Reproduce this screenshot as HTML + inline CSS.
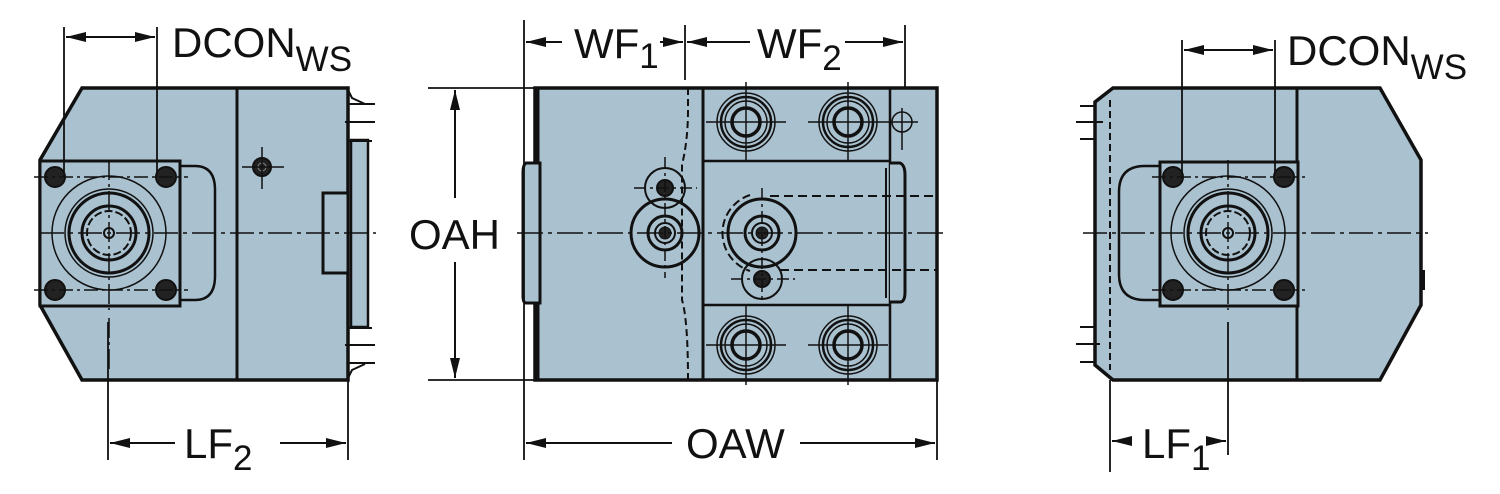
<!DOCTYPE html>
<html><head><style>
html,body{margin:0;padding:0;background:#fff;}
svg{display:block;}
text{font-family:"Liberation Sans",Arial,sans-serif;fill:#111;}
</style></head><body>
<svg width="1500" height="494" viewBox="0 0 1500 494" xmlns="http://www.w3.org/2000/svg">
<defs>
<marker id="a" viewBox="0 0 20 10" refX="20" refY="5" markerWidth="20" markerHeight="10" markerUnits="userSpaceOnUse" orient="auto"><path d="M0,0 L20,5 L0,10 Z" fill="#111"/></marker>
</defs>
<g stroke="#111" fill="none">

<!-- LEFT VIEW -->
<path d="M82,88 L348,88 L348,380 L82,380 L40,305 L40,160 Z" fill="#aac1cf" stroke-width="3.5"/>
<line x1="237" y1="88" x2="237" y2="380" stroke-width="3"/>
<path d="M348,90 L352,98 L365,104 M348,378 L352,370 L365,364" stroke-width="2"/>
<rect x="351" y="140" width="17" height="187" fill="#aac1cf" stroke-width="2.5"/>
<rect x="323" y="193" width="25" height="80" fill="#aac1cf" stroke-width="3"/>
<path d="M348,104 L375,104 M345,122 L375,122 M348,141 L372,141 M348,328 L372,328 M345,345 L375,345 M348,363 L375,363" stroke-width="2"/>
<rect x="40" y="161" width="140" height="145" fill="#aac1cf" stroke-width="3"/>
<path d="M180,166 L195,166 Q215,166 215,190 L215,276 Q215,300 195,300 L180,300" stroke-width="2.5"/>
<circle cx="109" cy="233" r="57" stroke-width="1.5"/>
<circle cx="109" cy="233" r="44" stroke-width="1.5"/>
<circle cx="109" cy="233" r="40" stroke-width="3"/>
<circle cx="109" cy="233" r="27" stroke-width="3"/>
<circle cx="109" cy="233" r="22" stroke-width="2" stroke-dasharray="8 3"/>
<circle cx="109" cy="233" r="5" stroke-width="2"/>
<g fill="#222" stroke-width="2">
<circle cx="55" cy="177" r="10"/><circle cx="166" cy="177" r="10"/>
<circle cx="55" cy="290" r="10"/><circle cx="166" cy="290" r="10"/>
</g>
<circle cx="262" cy="167" r="9" fill="#222" stroke-width="2"/>
<circle cx="262" cy="167" r="4" stroke="#888" stroke-width="1"/>
<path d="M242,167 L284,167 M262,147 L262,189" stroke-width="1.5"/>
<path d="M34,177 L188,177 M34,290 L188,290" stroke-width="1.5" stroke-dasharray="14 4 3 4"/>
<path d="M40,233 L376,233" stroke-width="1.5" stroke-dasharray="24 5 4 5"/>
<path d="M109,160 L109,310 M109,318 L109,370" stroke-width="1.5" stroke-dasharray="20 4 3 4"/>
<!-- dims left -->
<path d="M64,27 L64,177 M157,27 L157,177" stroke-width="1.8"/>
<line x1="110" y1="37" x2="66" y2="37" stroke-width="2" marker-end="url(#a)"/>
<line x1="110" y1="37" x2="155" y2="37" stroke-width="2" marker-end="url(#a)"/>
<path d="M108,322 L108,460 M348,380 L348,460" stroke-width="1.8"/>
<line x1="175" y1="443" x2="110" y2="443" stroke-width="2" marker-end="url(#a)"/>
<line x1="280" y1="443" x2="346" y2="443" stroke-width="2" marker-end="url(#a)"/>

<!-- OAH -->
<path d="M428,88 L535,88 M428,380 L535,380" stroke-width="1.8"/>
<line x1="455" y1="198" x2="455" y2="90" stroke-width="2" marker-end="url(#a)"/>
<line x1="455" y1="262" x2="455" y2="378" stroke-width="2" marker-end="url(#a)"/>

<!-- MIDDLE VIEW -->
<rect x="535" y="88" width="402" height="292" fill="#aac1cf" stroke-width="3.5"/>
<line x1="538" y1="88" x2="538" y2="380" stroke-width="3"/>
<path d="M540,163 L526,163 Q523,165 523,172 L523,296 Q523,303 526,303 L540,303 Z" fill="#aac1cf" stroke-width="3"/>
<line x1="703" y1="88" x2="703" y2="380" stroke-width="3"/>
<line x1="890" y1="88" x2="890" y2="380" stroke-width="2.5"/>
<path d="M688,88 L688,110 Q688,140 682,165 L682,300 Q688,320 688,380" stroke-width="2" stroke-dasharray="7 4"/>
<path d="M703,161 L890,161 M703,305 L890,305" stroke-width="2.5"/>
<path d="M890,163 L900,163 Q905,165 905,175 L905,292 Q905,302 900,302 L890,302" fill="#aac1cf" stroke-width="3"/>
<path d="M886,168 L886,298" stroke-width="2"/>
<g stroke-width="2.5">
<circle cx="746" cy="122" r="29" stroke-width="1.5"/><circle cx="746" cy="122" r="25"/><circle cx="746" cy="122" r="21" stroke-width="1.5"/><circle cx="746" cy="122" r="14" stroke-width="3.5"/>
<circle cx="848" cy="122" r="29" stroke-width="1.5"/><circle cx="848" cy="122" r="25"/><circle cx="848" cy="122" r="21" stroke-width="1.5"/><circle cx="848" cy="122" r="14" stroke-width="3.5"/>
<circle cx="746" cy="345" r="29" stroke-width="1.5"/><circle cx="746" cy="345" r="25"/><circle cx="746" cy="345" r="21" stroke-width="1.5"/><circle cx="746" cy="345" r="14" stroke-width="3.5"/>
<circle cx="848" cy="345" r="29" stroke-width="1.5"/><circle cx="848" cy="345" r="25"/><circle cx="848" cy="345" r="21" stroke-width="1.5"/><circle cx="848" cy="345" r="14" stroke-width="3.5"/>
</g>
<path d="M706,122 L786,122 M808,122 L888,122 M746,82 L746,162 M848,82 L848,162 M706,345 L786,345 M808,345 L888,345 M746,305 L746,385 M848,305 L848,385" stroke-width="1.5"/>
<circle cx="902" cy="122" r="10" stroke-width="1.5"/>
<path d="M888,122 L918,122 M902,108 L902,150" stroke-width="1.5"/>
<circle cx="665" cy="233" r="34" stroke-width="3"/>
<circle cx="665" cy="233" r="17" stroke-width="3"/>
<circle cx="665" cy="233" r="10" stroke-width="2"/>
<circle cx="665" cy="233" r="6" fill="#222"/>
<circle cx="665" cy="188" r="20" stroke-width="2"/>
<circle cx="665" cy="188" r="8" fill="#222" stroke-width="2"/>
<path d="M634,188 L697,188 M665,157 L665,278" stroke-width="1.5" stroke-dasharray="12 4 3 4"/>
<path d="M750,195 A40,40 0 0 0 750,271" stroke-width="2" stroke-dasharray="8 4"/>
<circle cx="762" cy="233" r="34" stroke-width="3"/>
<circle cx="762" cy="233" r="17" stroke-width="3"/>
<circle cx="762" cy="233" r="10" stroke-width="2"/>
<circle cx="762" cy="233" r="6" fill="#222"/>
<circle cx="762" cy="279" r="20" stroke-width="2"/>
<circle cx="762" cy="279" r="8" fill="#222" stroke-width="2"/>
<path d="M731,279 L795,279 M762,188 L762,300" stroke-width="1.5" stroke-dasharray="12 4 3 4"/>
<path d="M770,196 L937,196 M780,270 L937,270" stroke-width="2" stroke-dasharray="9 5"/>
<path d="M517,233 L943,233" stroke-width="1.5" stroke-dasharray="26 5 4 5"/>
<path d="M524,20 L524,460 M685,25 L685,80 M905,25 L905,88 M937,380 L937,460" stroke-width="1.8"/>
<line x1="562" y1="42" x2="526" y2="42" stroke-width="2" marker-end="url(#a)"/>
<line x1="660" y1="42" x2="683" y2="42" stroke-width="2" marker-end="url(#a)"/>
<line x1="750" y1="42" x2="687" y2="42" stroke-width="2" marker-end="url(#a)"/>
<line x1="845" y1="42" x2="903" y2="42" stroke-width="2" marker-end="url(#a)"/>
<line x1="672" y1="443" x2="526" y2="443" stroke-width="2" marker-end="url(#a)"/>
<line x1="800" y1="443" x2="935" y2="443" stroke-width="2" marker-end="url(#a)"/>

<!-- RIGHT VIEW -->
<path d="M1113,88 L1380,88 L1421,160 L1421,305 L1380,380 L1113,380 L1095,365 L1095,102 Z" fill="#aac1cf" stroke-width="3.5"/>
<line x1="1297" y1="88" x2="1297" y2="380" stroke-width="3"/>
<line x1="1110" y1="100" x2="1110" y2="370" stroke-width="2" stroke-dasharray="7 4"/>
<path d="M1080,106 L1095,106 M1076,122 L1103,122 M1080,139 L1095,139 M1080,327 L1095,327 M1076,344 L1100,344 M1080,362 L1095,362" stroke-width="2"/>
<path d="M1160,166 L1145,166 Q1119,166 1119,192 L1119,274 Q1119,300 1145,300 L1160,300" stroke-width="2.5"/>
<rect x="1160" y="162" width="138" height="144" fill="#aac1cf" stroke-width="3"/>
<circle cx="1228" cy="233" r="57" stroke-width="1.5"/>
<circle cx="1228" cy="233" r="44" stroke-width="1.5"/>
<circle cx="1228" cy="233" r="40" stroke-width="3"/>
<circle cx="1228" cy="233" r="27" stroke-width="3"/>
<circle cx="1228" cy="233" r="22" stroke-width="2" stroke-dasharray="8 3"/>
<circle cx="1228" cy="233" r="5" stroke-width="2"/>
<g fill="#222" stroke-width="2">
<circle cx="1173" cy="177" r="10"/><circle cx="1284" cy="177" r="10"/>
<circle cx="1173" cy="290" r="10"/><circle cx="1284" cy="290" r="10"/>
</g>
<path d="M1152,177 L1305,177 M1152,290 L1305,290" stroke-width="1.5" stroke-dasharray="14 4 3 4"/>
<path d="M1083,233 L1428,233" stroke-width="1.5" stroke-dasharray="24 5 4 5"/>
<path d="M1228,160 L1228,310" stroke-width="1.5" stroke-dasharray="20 4 3 4"/>
<path d="M1423,270 L1423,290" stroke-width="4"/>
<path d="M1182,40 L1182,175 M1275,40 L1275,175" stroke-width="1.8"/>
<line x1="1228" y1="50" x2="1184" y2="50" stroke-width="2" marker-end="url(#a)"/>
<line x1="1228" y1="50" x2="1273" y2="50" stroke-width="2" marker-end="url(#a)"/>
<path d="M1110,380 L1110,472 M1228,322 L1228,455" stroke-width="1.8"/>
<line x1="1132" y1="441" x2="1112" y2="441" stroke-width="2" marker-end="url(#a)"/>
<line x1="1206" y1="441" x2="1226" y2="441" stroke-width="2" marker-end="url(#a)"/>
</g>

<!-- LABELS -->
<text x="172" y="57" font-size="42">DCON<tspan font-size="35" dy="14">WS</tspan></text>
<text x="1287" y="65" font-size="42">DCON<tspan font-size="35" dy="14">WS</tspan></text>
<text x="409" y="249" font-size="42">OAH</text>
<text x="184" y="458" font-size="42">LF<tspan font-size="35" dy="12">2</tspan></text>
<text x="1142" y="458" font-size="42">LF<tspan font-size="35" dy="12">1</tspan></text>
<text x="574" y="58" font-size="42">WF<tspan font-size="35" dy="10">1</tspan></text>
<text x="757" y="58" font-size="42">WF<tspan font-size="35" dy="12">2</tspan></text>
<text x="686" y="458" font-size="42">OAW</text>
</svg>
</body></html>
